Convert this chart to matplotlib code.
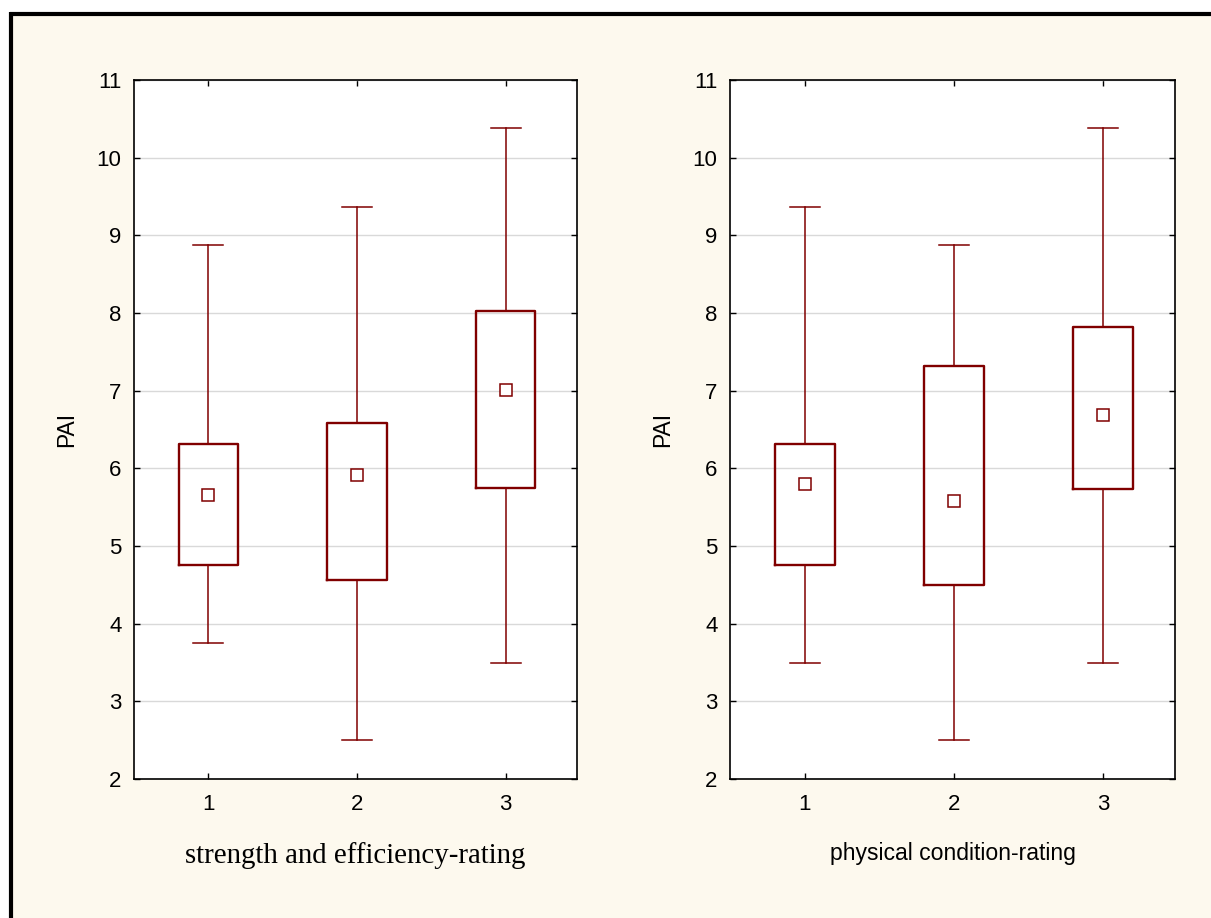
import matplotlib
matplotlib.use("Agg")
import matplotlib.pyplot as plt
from matplotlib.lines import Line2D

# Box summary values (PAI by rating group)
groups = [1, 2, 3]

str_whislo = [3.75, 2.5, 3.5]
str_q1 = [4.76, 4.56, 5.75]
str_mean = [5.66, 5.91, 7.01]
str_q3 = [6.31, 6.58, 8.03]
str_whishi = [8.88, 9.37, 10.38]

phy_whislo = [3.5, 2.5, 3.5]
phy_q1 = [4.76, 4.5, 5.73]
phy_mean = [5.8, 5.58, 6.69]
phy_q3 = [6.31, 7.32, 7.82]
phy_whishi = [9.37, 8.88, 10.38]

yticks = list(range(2, 12))

box_color = "#800000"
bg_color = "#FDF9EE"
sans_size = 16


def make_stats(lo, q1, mean, q3, hi):
    stats = []
    for i in range(len(lo)):
        stats.append({"whislo": lo[i], "q1": q1[i], "med": mean[i], "mean": mean[i],
                      "q3": q3[i], "whishi": hi[i], "fliers": []})
    return stats


def draw_panel(ax, stats, xlabel, xlabel_font):
    ax.set_facecolor("white")
    ax.yaxis.grid(True, color="#D9D9D9", linewidth=1.0)
    ax.set_axisbelow(True)
    ax.bxp(stats, positions=groups, widths=0.4, capwidths=0.2,
           showmeans=True, showfliers=False,
           boxprops=dict(color=box_color, linewidth=1.7),
           whiskerprops=dict(color=box_color, linewidth=1.1),
           capprops=dict(color=box_color, linewidth=1.1),
           medianprops=dict(visible=False),
           meanprops=dict(marker="s", markerfacecolor="white", markeredgecolor=box_color,
                          markersize=8, markeredgewidth=1.1))
    ax.set_xlim(0.5, 3.48)
    ax.set_ylim(2, 11)
    ax.set_yticks(yticks)
    ax.set_xticks(groups)
    ax.set_xticklabels([str(g) for g in groups])
    ax.tick_params(direction="in", top=True, right=True, length=4, width=1,
                   labelsize=sans_size)
    ax.tick_params(axis="y", pad=9)
    ax.tick_params(axis="x", pad=11)
    for s in ax.spines.values():
        s.set_linewidth(1.2)
    ax.set_ylabel("PAI", fontsize=16.5, family="Liberation Sans", labelpad=13)
    ax.set_xlabel(xlabel, **xlabel_font)
    for lab in ax.get_xticklabels() + ax.get_yticklabels():
        lab.set_family("Liberation Sans")


fig = plt.figure(figsize=(12.11, 9.18), dpi=100)
fig.patch.set_facecolor("white")

# cream panel with black border (left and top visible, rest cropped)
fig.patches.append(plt.Rectangle((11 / 1211, 0), 1.0, 1 - 14 / 918, transform=fig.transFigure,
                                 facecolor=bg_color, edgecolor="none", zorder=-10))
fig.lines.append(Line2D([11 / 1211, 11 / 1211], [0, 1 - 12 / 918], transform=fig.transFigure,
                        color="black", linewidth=3, solid_capstyle="butt"))
fig.lines.append(Line2D([10 / 1211, 1.0], [1 - 13.5 / 918, 1 - 13.5 / 918], transform=fig.transFigure,
                        color="black", linewidth=3, solid_capstyle="butt"))

ax1 = fig.add_axes([134 / 1211, 139 / 918, 443 / 1211, 699 / 918])
ax2 = fig.add_axes([730 / 1211, 139 / 918, 445 / 1211, 699 / 918])

draw_panel(ax1, make_stats(str_whislo, str_q1, str_mean, str_q3, str_whishi),
           "strength and efficiency-rating",
           dict(family="Liberation Serif", fontsize=20.8, labelpad=19))
draw_panel(ax2, make_stats(phy_whislo, phy_q1, phy_mean, phy_q3, phy_whishi),
           "physical condition-rating",
           dict(family="Liberation Sans", fontsize=16.6, labelpad=19))

fig.savefig("out.png", dpi=100)
